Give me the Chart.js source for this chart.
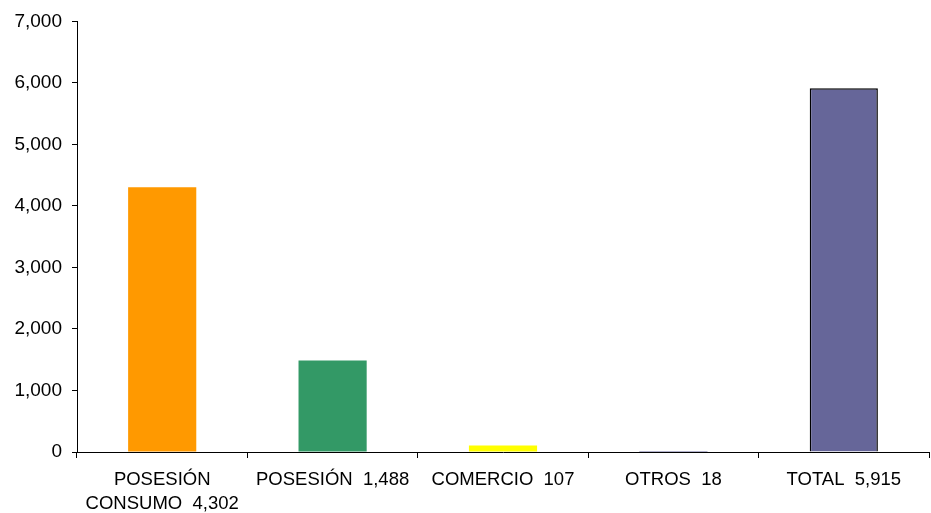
<!DOCTYPE html>
<html>
<head>
<meta charset="utf-8">
<script src="https://cdn.jsdelivr.net/npm/chart.js@4.4.1/dist/chart.umd.min.js"></script>
<style>
  html, body { margin: 0; padding: 0; background: #fff; }
  #wrap { width: 931px; height: 513px; }
</style>
</head>
<body>
<div id="wrap"><canvas id="chart" width="931" height="513"></canvas></div>
<script>
// Données du graphique
const categories = [
    ['POSESIÓN', 'CONSUMO  4,302'],
    'POSESIÓN  1,488',
    'COMERCIO  107',
    'OTROS  18',
    'TOTAL  5,915'
];
const values = [4302, 1488, 107, 18, 5915];
const barColors = ['#FF9900', '#339966', '#FFFF00', '#666699', '#666699'];
const barBorders = [0, 0, 0, 0, 1.5];
const yMax = 7000;
const yStep = 1000;

Chart.defaults.font.family = "'Liberation Sans', Arial, sans-serif";
Chart.defaults.color = '#000';

const labelFont = { size: 18.5, lineHeight: 1.3 };

new Chart(document.getElementById('chart'), {
    type: 'bar',
    data: {
        labels: categories,
        datasets: [{
            data: values,
            backgroundColor: barColors,
            borderColor: '#000',
            borderWidth: barBorders,
            barPercentage: 0.4,
            categoryPercentage: 1
        }]
    },
    options: {
        responsive: false,
        animation: false,
        layout: { padding: { top: 20, right: 2, left: 0, bottom: 0 } },
        plugins: {
            legend: { display: false },
            tooltip: { enabled: false }
        },
        scales: {
            x: {
                grid: { drawOnChartArea: false, offset: true, tickLength: 6, color: '#000' },
                border: { color: '#000' },
                ticks: { font: labelFont, padding: 10, maxRotation: 0, autoSkip: false },
                afterFit(scale) { scale.height = 61; }
            },
            y: {
                min: 0,
                max: yMax,
                grid: { drawOnChartArea: false, tickLength: 5, color: '#000' },
                border: { color: '#000' },
                ticks: {
                    stepSize: yStep,
                    font: { size: 19 },
                    padding: 10,
                    callback: v => v.toLocaleString('en-US')
                },
                afterFit(scale) { scale.width = 77; }
            }
        }
    }
});
</script>
</body>
</html>
